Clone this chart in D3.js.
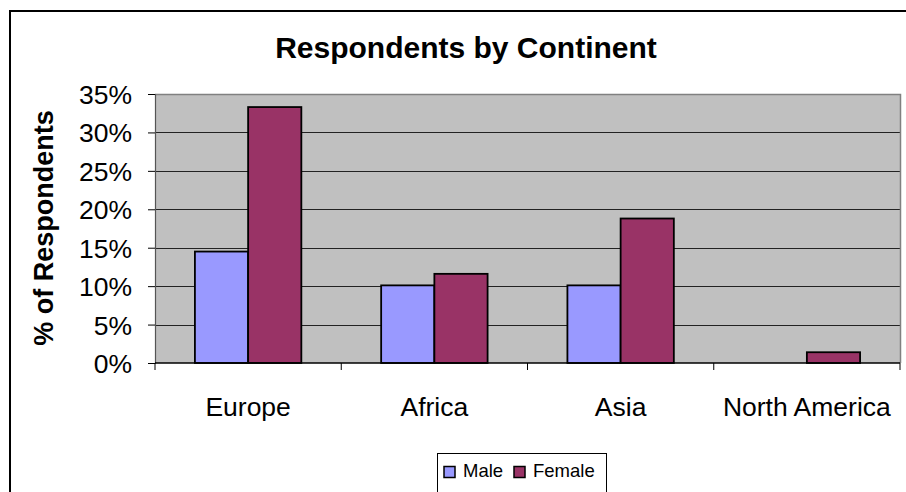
<!DOCTYPE html>
<html>
<head>
<meta charset="utf-8">
<script src="https://cdn.jsdelivr.net/npm/d3@7"></script>
<style>
  html, body { margin: 0; padding: 0; background: #fff; }
  svg { display: block; font-family: "Liberation Sans", Arial, sans-serif; }
</style>
</head>
<body>
<svg id="chart" width="906" height="492"></svg>
<script>
// Share of respondents by continent, split by gender
const continents = ["Europe", "Africa", "Asia", "North America"];
const seriesNames = ["Male", "Female"];
const maleValues = [0.145, 0.101, 0.101, 0];
const femaleValues = [0.333, 0.116, 0.188, 0.014];
const yTicks = [0, 0.05, 0.10, 0.15, 0.20, 0.25, 0.30, 0.35];
const seriesColors = ["#9999FF", "#993366"];

const svg = d3.select("#chart");

// Outer chart frame (runs past the right and bottom edges)
svg.append("rect")
  .attr("x", 10).attr("y", 11)
  .attr("width", 1000).attr("height", 600)
  .attr("fill", "#fff").attr("stroke", "#000").attr("stroke-width", 2);

const plot = { left: 155, right: 900, top: 94, bottom: 363 };

const x = d3.scaleBand().domain(continents).range([plot.left, plot.right]).padding(0);
const xs = d3.scaleBand().domain(seriesNames).range([0, x.bandwidth()])
  .paddingInner(0).paddingOuter(0.75);
const y = d3.scaleLinear().domain([0, 0.35]).range([plot.bottom, plot.top]);

// Plot background
svg.append("rect")
  .attr("x", plot.left).attr("y", plot.top)
  .attr("width", plot.right - plot.left).attr("height", plot.bottom - plot.top)
  .attr("fill", "#C0C0C0");

// Horizontal gridlines
svg.append("g").selectAll("line")
  .data(yTicks.filter(t => t > 0 && t < 0.35))
  .join("line")
  .attr("x1", plot.left).attr("x2", plot.right)
  .attr("y1", d => Math.round(y(d)) + 0.5).attr("y2", d => Math.round(y(d)) + 0.5)
  .attr("stroke", "#222").attr("stroke-width", 1);

// Plot border top/right
svg.append("path")
  .attr("d", `M${plot.left},${plot.top + 0.5}H${plot.right + 0.5}V${plot.bottom}`)
  .attr("fill", "none").attr("stroke", "#808080").attr("stroke-width", 1.5);

// Bars
const rows = continents.map((c, i) => ({ c, vals: [maleValues[i], femaleValues[i]] }));
const groups = svg.append("g").selectAll("g")
  .data(rows).join("g")
  .attr("transform", d => `translate(${x(d.c)},0)`);
groups.selectAll("rect")
  .data(d => d.vals.map((v, j) => ({ v, s: seriesNames[j], j })).filter(e => e.v > 0))
  .join("rect")
  .attr("x", d => xs(d.s))
  .attr("y", d => y(d.v))
  .attr("width", xs.bandwidth())
  .attr("height", d => y(0) - y(d.v))
  .attr("fill", d => seriesColors[d.j])
  .attr("stroke", "#000").attr("stroke-width", 1.8);

// Y axis
const yAxis = d3.axisLeft(y).tickValues(yTicks)
  .tickFormat(d3.format(".0%")).tickSize(7).tickPadding(16);
const gy = svg.append("g").attr("transform", `translate(${plot.left},0)`).call(yAxis);
gy.select(".domain").attr("stroke", "#555").attr("stroke-width", 1.2);
gy.selectAll(".tick line").attr("stroke", "#000");
gy.selectAll(".tick text")
  .attr("font-size", 26.5).attr("fill", "#000")
  .attr("font-family", "'Liberation Sans', Arial, sans-serif")
  .attr("dy", "0.36em");

// X axis: ticks at category boundaries
const boundaries = continents.map(c => x(c)).concat([plot.right]);
svg.append("line")
  .attr("x1", plot.left).attr("x2", plot.right)
  .attr("y1", plot.bottom).attr("y2", plot.bottom)
  .attr("stroke", "#000").attr("stroke-width", 1.5);
svg.append("g").selectAll("line")
  .data(boundaries).join("line")
  .attr("x1", d => d).attr("x2", d => d)
  .attr("y1", plot.bottom).attr("y2", plot.bottom + 7)
  .attr("stroke", "#000").attr("stroke-width", 1);
svg.append("g").selectAll("text")
  .data(continents).join("text")
  .attr("x", d => x(d) + x.bandwidth() / 2)
  .attr("y", 416)
  .attr("text-anchor", "middle")
  .attr("font-size", 26.5)
  .text(d => d);

// Title
svg.append("text")
  .attr("x", 466).attr("y", 58)
  .attr("text-anchor", "middle")
  .attr("font-size", 30).attr("font-weight", "bold")
  .text("Respondents by Continent");

// Y axis title
svg.append("text")
  .attr("transform", "translate(53,228) rotate(-90)")
  .attr("text-anchor", "middle")
  .attr("font-size", 27).attr("font-weight", "bold")
  .text("% of Respondents");

// Legend
const legend = svg.append("g");
legend.append("rect")
  .attr("x", 437.5).attr("y", 453.5)
  .attr("width", 169).attr("height", 60)
  .attr("fill", "#fff").attr("stroke", "#000").attr("stroke-width", 1);
const legendItems = [
  { name: seriesNames[0], color: seriesColors[0], sx: 444, tx: 463 },
  { name: seriesNames[1], color: seriesColors[1], sx: 514, tx: 533 }
];
legend.selectAll("rect.sw").data(legendItems).join("rect")
  .attr("class", "sw")
  .attr("x", d => d.sx).attr("y", 466.5)
  .attr("width", 11).attr("height", 11)
  .attr("fill", d => d.color).attr("stroke", "#000").attr("stroke-width", 1.5);
legend.selectAll("text").data(legendItems).join("text")
  .attr("x", d => d.tx).attr("y", 477)
  .attr("font-size", 18.5)
  .text(d => d.name);
</script>
</body>
</html>
